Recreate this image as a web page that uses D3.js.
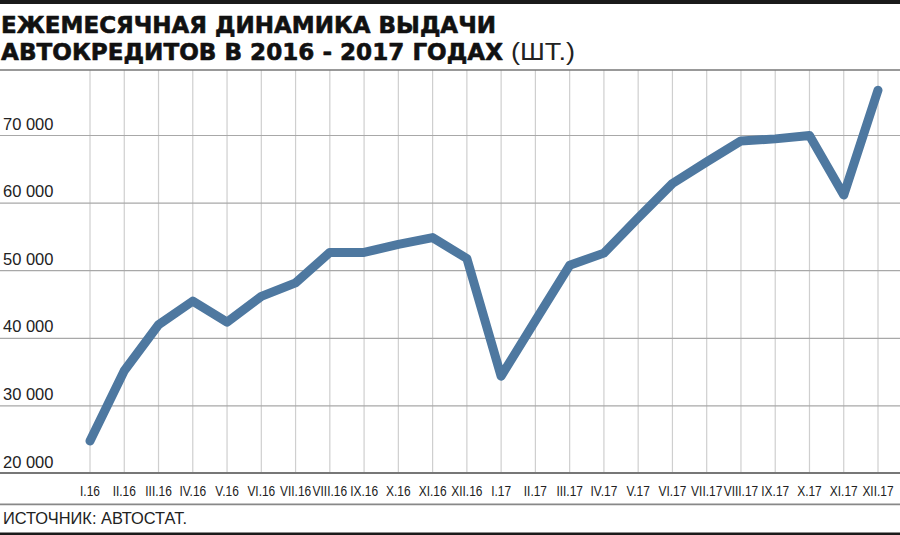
<!DOCTYPE html>
<html>
<head>
<meta charset="utf-8">
<script src="https://cdn.jsdelivr.net/npm/d3@7"></script>
<style>
  html, body { margin: 0; padding: 0; background: #fff; }
  svg { display: block; }
</style>
</head>
<body>
<svg id="chart" width="900" height="535"></svg>
<script>
const months = ["I.16","II.16","III.16","IV.16","V.16","VI.16","VII.16","VIII.16","IX.16","X.16","XI.16","XII.16",
                "I.17","II.17","III.17","IV.17","V.17","VI.17","VII.17","VIII.17","IX.17","X.17","XI.17","XII.17"];
const loans = [24800, 35200, 42000, 45500, 42400, 46200, 48200, 52700, 52700, 53900, 54900, 51800,
               34400, 42600, 50800, 52600, 57800, 62900, 66100, 69200, 69500, 70000, 61200, 76700];
const yTicks = [20000, 30000, 40000, 50000, 60000, 70000];
const titleLine1 = "ЕЖЕМЕСЯЧНАЯ ДИНАМИКА ВЫДАЧИ";
const titleLine2 = "АВТОКРЕДИТОВ В 2016 - 2017 ГОДАХ";
const titleUnit = "(ШТ.)";
const sourceText = "ИСТОЧНИК: АВТОСТАТ.";

const svg = d3.select("#chart");
const W = 900, H = 535;

const x = d3.scalePoint().domain(months).range([90, 878]);
const y = d3.scaleLinear().domain([20000, 70000]).range([473.5, 135.5]);
const plotTop = 70, plotBottom = 473;

// top black bar
svg.append("rect").attr("x", 0).attr("y", 0).attr("width", W).attr("height", 4).attr("fill", "#1a1a1a");
// bottom black bar
svg.append("rect").attr("x", 0).attr("y", 532.5).attr("width", W).attr("height", 2.5).attr("fill", "#1a1a1a");

// title
const titleFont = "'DejaVu Sans', 'Liberation Sans', Arial, sans-serif";
svg.append("text").attr("x", 1).attr("y", 32.5)
  .attr("font-family", titleFont)
  .attr("font-weight", 700).attr("font-size", 23).attr("fill", "#111")
  .attr("stroke", "#111").attr("stroke-width", 0.6).attr("stroke-linejoin", "round")
  .attr("textLength", 495).attr("lengthAdjust", "spacingAndGlyphs")
  .text(titleLine1);
svg.append("text").attr("x", 1).attr("y", 60)
  .attr("font-family", titleFont)
  .attr("font-weight", 700).attr("font-size", 23).attr("fill", "#111")
  .attr("stroke", "#111").attr("stroke-width", 0.6).attr("stroke-linejoin", "round")
  .attr("textLength", 502).attr("lengthAdjust", "spacingAndGlyphs")
  .text(titleLine2);
svg.append("text").attr("x", 511).attr("y", 60)
  .attr("font-family", "'Liberation Sans', Arial, sans-serif")
  .attr("font-weight", 400).attr("font-size", 23).attr("fill", "#222")
  .attr("textLength", 64).attr("lengthAdjust", "spacingAndGlyphs")
  .text(titleUnit);

// vertical gridlines
svg.append("g").selectAll("line").data(months).join("line")
  .attr("x1", d => x(d)).attr("x2", d => x(d))
  .attr("y1", plotTop).attr("y2", plotBottom)
  .attr("stroke", "#cfcfcf").attr("stroke-width", 1.2);

// horizontal gridlines
svg.append("g").selectAll("line").data(yTicks.filter(v => v > 20000)).join("line")
  .attr("x1", 0).attr("x2", W)
  .attr("y1", d => y(d)).attr("y2", d => y(d))
  .attr("stroke", "#a8a8a8").attr("stroke-width", 1.2);

// top rule
svg.append("line").attr("x1", 0).attr("x2", W).attr("y1", plotTop).attr("y2", plotTop)
  .attr("stroke", "#777").attr("stroke-width", 1.5);
// bottom axis line
svg.append("line").attr("x1", 0).attr("x2", W).attr("y1", y(20000) - 0.5).attr("y2", y(20000) - 0.5)
  .attr("stroke", "#777").attr("stroke-width", 1.8);
// line under x labels
svg.append("line").attr("x1", 0).attr("x2", W).attr("y1", 504.3).attr("y2", 504.3)
  .attr("stroke", "#888").attr("stroke-width", 1.8);

// y labels
const fmt = v => d3.format(",")(v).replace(/,/g, " ");
svg.append("g").selectAll("text").data(yTicks).join("text")
  .attr("x", 3).attr("y", d => y(d) - 6)
  .attr("font-family", "'Liberation Sans', Arial, sans-serif")
  .attr("font-size", 16.5).attr("fill", "#222")
  .text(d => fmt(d));

// x labels (condensed)
svg.append("g").selectAll("text").data(months).join("text")
  .attr("transform", d => `translate(${x(d)},496) scale(0.77,1)`)
  .attr("text-anchor", "middle")
  .attr("font-family", "'Liberation Sans', Arial, sans-serif")
  .attr("font-size", 15.5).attr("fill", "#222")
  .text(d => d);

// the data line
const line = d3.line().x((d, i) => x(months[i])).y(d => y(d));
svg.append("path").datum(loans)
  .attr("d", line)
  .attr("fill", "none")
  .attr("stroke", "#4e78a0")
  .attr("stroke-width", 9)
  .attr("stroke-linejoin", "round")
  .attr("stroke-linecap", "round");

// source
svg.append("text").attr("x", 3).attr("y", 524)
  .attr("font-family", "'Liberation Sans', Arial, sans-serif")
  .attr("font-size", 16).attr("fill", "#222")
  .attr("textLength", 184).attr("lengthAdjust", "spacingAndGlyphs")
  .text(sourceText);
</script>
</body>
</html>
